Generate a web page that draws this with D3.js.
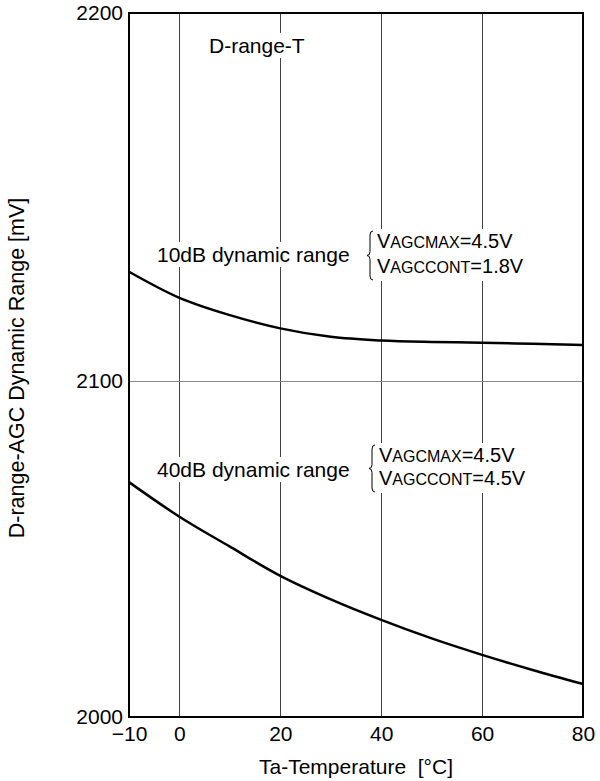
<!DOCTYPE html>
<html>
<head>
<meta charset="utf-8">
<script src="https://cdn.jsdelivr.net/npm/d3@7"></script>
<style>
  html, body { margin: 0; padding: 0; background: #fff; }
  svg { display: block; font-family: "Liberation Sans", Arial, Helvetica, sans-serif; }
</style>
</head>
<body>
<svg id="chart" width="600" height="781"></svg>
<script>
// ---- data ----
const temps = [-10, 0, 10, 20, 30, 40, 50, 60, 70, 80];
const range10dB = [2129.7, 2122.6, 2117.9, 2114.3, 2112.0, 2111.0, 2110.6, 2110.4, 2110.1, 2109.8];
const range40dB = [2069.9, 2059.6, 2050.7, 2042.0, 2035.0, 2028.9, 2023.4, 2018.5, 2014.0, 2009.8];
const xTicks = [-10, 0, 20, 40, 60, 80];
const yTicks = [2000, 2100, 2200];
const xGrid = [0, 20, 40, 60];
const yGrid = [2100];

const svg = d3.select("#chart");
const L = 129, R = 583, T = 13, B = 717;

const x = d3.scaleLinear().domain([-10, 80]).range([L, R]);
const y = d3.scaleLinear().domain([2000, 2100, 2200]).range([B, 381, T]);

// grid
svg.append("g").selectAll("line").data(xGrid).join("line")
  .attr("x1", d => x(d)).attr("x2", d => x(d)).attr("y1", T).attr("y2", B)
  .attr("stroke", "#444").attr("stroke-width", 1).attr("shape-rendering", "crispEdges");
svg.append("g").selectAll("line").data(yGrid).join("line")
  .attr("x1", L).attr("x2", R).attr("y1", d => y(d)).attr("y2", d => y(d))
  .attr("stroke", "#888").attr("stroke-width", 1).attr("shape-rendering", "crispEdges");

// labels with white background
const fs = 21;
function bgText(g) {
  const bb = g.node().getBBox();
  g.insert("rect", ":first-child")
    .attr("x", bb.x - 2).attr("y", bb.y - 1)
    .attr("width", bb.width + 4).attr("height", bb.height + 2)
    .attr("fill", "#fff");
}

const g1 = svg.append("g");
g1.append("text").attr("x", 209).attr("y", 53).attr("font-size", fs).text("D-range-T");
bgText(g1);

function annot(label, lblBase, vBase1, vBase2, maxText, contText, braceX) {
  const gl = svg.append("g");
  gl.append("text").attr("x", 157).attr("y", lblBase).attr("font-size", fs).text(label);
  bgText(gl);
  const gv = svg.append("g");
  const t1 = gv.append("text").attr("x", braceX + 10).attr("y", vBase1).attr("font-size", 20);
  t1.append("tspan").text("V");
  t1.append("tspan").attr("font-size", 16).text("AGCMAX");
  t1.append("tspan").text(maxText);
  const t2 = gv.append("text").attr("x", braceX + 10).attr("y", vBase2).attr("font-size", 20);
  t2.append("tspan").text("V");
  t2.append("tspan").attr("font-size", 16).text("AGCCONT");
  t2.append("tspan").text(contText);
  const y0 = vBase1 - 17, y1 = vBase2 + 7, ym = (y0 + y1) / 2;
  const bx = braceX;
  gv.append("path")
    .attr("d", `M${bx + 6},${y0} Q${bx + 3},${y0} ${bx + 3},${y0 + 4} L${bx + 3},${ym - 4} Q${bx + 3},${ym} ${bx},${ym} Q${bx + 3},${ym} ${bx + 3},${ym + 4} L${bx + 3},${y1 - 4} Q${bx + 3},${y1} ${bx + 6},${y1}`)
    .attr("fill", "none").attr("stroke", "#000").attr("stroke-width", 1);
  bgText(gv);
}
annot("10dB dynamic range", 262, 248, 273, "=4.5V", "=1.8V", 367);
annot("40dB dynamic range", 477, 462, 485, "=4.5V", "=4.5V", 369);

// curves
const line = d3.line().x((d, i) => x(temps[i])).y(d => y(d)).curve(d3.curveMonotoneX);
[range10dB, range40dB].forEach(s => {
  svg.append("path").attr("d", line(s)).attr("fill", "none")
    .attr("stroke", "#000").attr("stroke-width", 2.5);
});

// frame
svg.append("rect").attr("x", L).attr("y", T).attr("width", R - L).attr("height", B - T)
  .attr("fill", "none").attr("stroke", "#000").attr("stroke-width", 2);

// axes
const xAxis = svg.append("g").attr("transform", `translate(0,${B})`)
  .call(d3.axisBottom(x).tickValues(xTicks).tickSize(0).tickPadding(16)
    .tickFormat(d => d < 0 ? "\u2212" + Math.abs(d) : d));
xAxis.select(".domain").remove();
xAxis.selectAll("text").attr("font-size", fs).attr("fill", "#000")
  .attr("font-family", "Liberation Sans, Arial, sans-serif").attr("dy", "0.71em").attr("y", 9);

const yAxis = svg.append("g").attr("transform", `translate(${L},0)`)
  .call(d3.axisLeft(y).tickValues(yTicks).tickSize(0).tickPadding(6).tickFormat(d3.format("d")));
yAxis.select(".domain").remove();
yAxis.selectAll("text").attr("font-size", fs).attr("fill", "#000")
  .attr("font-family", "Liberation Sans, Arial, sans-serif");

// axis titles
svg.append("text").attr("x", 356).attr("y", 774).attr("text-anchor", "middle")
  .attr("font-size", fs).text("Ta-Temperature  [°C]").attr("xml:space", "preserve")
  .style("white-space", "pre");
svg.append("text").attr("transform", "translate(24,368) rotate(-90)")
  .attr("text-anchor", "middle").attr("font-size", 21.5).text("D-range-AGC Dynamic Range [mV]");
</script>
</body>
</html>
